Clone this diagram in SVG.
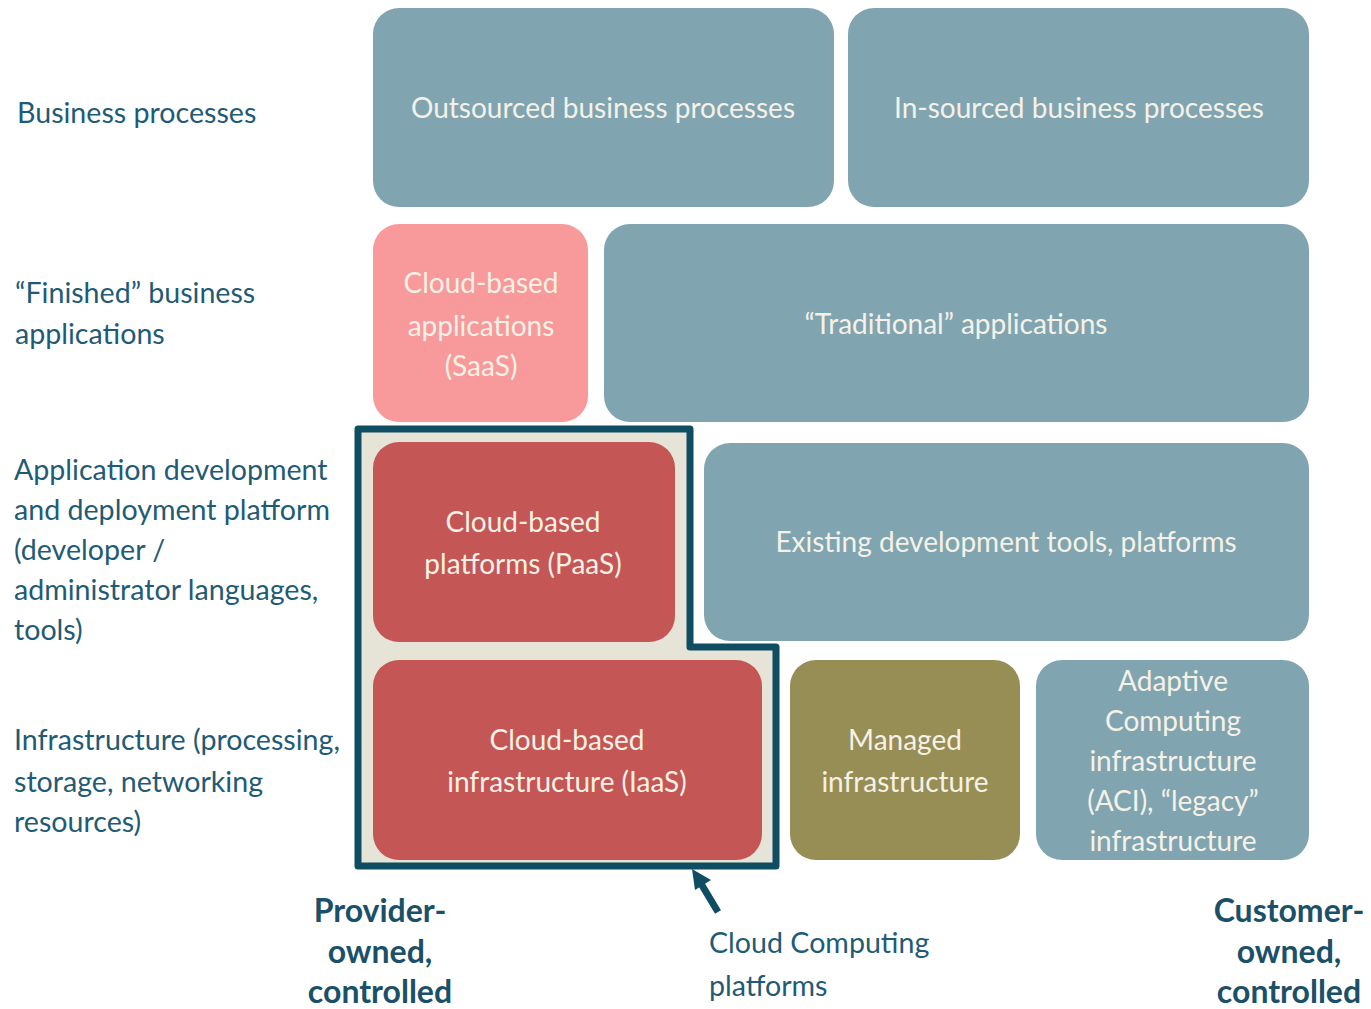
<svg xmlns="http://www.w3.org/2000/svg" width="1371" height="1009" viewBox="0 0 1371 1009">
<style>
.blue{fill:#80a5b1}
.pink{fill:#f89a9b}
.red{fill:#c45655}
.olive{fill:#968e55}
text{font-family:Lato,"Open Sans","Liberation Sans",sans-serif;font-size:28px}
.lbl{fill:#1f5b75;font-size:28.6px}
.bx{fill:#f6f1e6;text-anchor:middle}
.bold{font-weight:bold;fill:#1a5068;text-anchor:middle;font-size:32px}
</style>
<rect width="1371" height="1009" fill="#ffffff"/>
<g id="labels">
<text class="lbl" x="17" y="123">Business processes</text>
<text class="lbl" x="15" y="303">“Finished” business</text>
<text class="lbl" x="15" y="344">applications</text>
<text class="lbl" x="14" y="480">Application development</text>
<text class="lbl" x="14" y="520">and deployment platform</text>
<text class="lbl" x="14" y="560">(developer /</text>
<text class="lbl" x="14" y="600">administrator languages,</text>
<text class="lbl" x="14" y="640">tools)</text>
<text class="lbl" x="14" y="750">Infrastructure  (processing,</text>
<text class="lbl" x="14" y="792">storage, networking</text>
<text class="lbl" x="14" y="832">resources)</text>
</g>
<g id="cloud-platforms-outline">
<path d="M358 429 H690 V647 H776 V866 H358 Z" fill="#e6e4d6" stroke="#0f4d63" stroke-width="7" stroke-linejoin="round"/>
</g>
<g id="outsourced"><rect class="blue" x="373" y="8" width="461" height="199" rx="26"/><text class="bx" x="603" y="118">Outsourced business processes</text></g>
<g id="insourced"><rect class="blue" x="848" y="8" width="461" height="199" rx="26"/><text class="bx" x="1079" y="118">In-sourced business processes</text></g>
<g id="saas"><rect class="pink" x="373" y="224" width="215" height="198" rx="26"/><text class="bx" x="481" y="293">Cloud-based</text><text class="bx" x="481" y="336">applications</text><text class="bx" x="481" y="376">(SaaS)</text></g>
<g id="traditional"><rect class="blue" x="604" y="224" width="705" height="198" rx="26"/><text class="bx" x="956" y="334">“Traditional” applications</text></g>
<g id="paas"><rect class="red" x="373" y="442" width="302" height="200" rx="26"/><text class="bx" x="523" y="532">Cloud-based</text><text class="bx" x="523" y="574">platforms (PaaS)</text></g>
<g id="existing"><rect class="blue" x="704" y="443" width="605" height="198" rx="26"/><text class="bx" x="1006" y="552">Existing development tools, platforms</text></g>
<g id="iaas"><rect class="red" x="373" y="660" width="389" height="200" rx="26"/><text class="bx" x="567" y="750">Cloud-based</text><text class="bx" x="567" y="792">infrastructure (IaaS)</text></g>
<g id="managed"><rect class="olive" x="790" y="660" width="230" height="200" rx="26"/><text class="bx" x="905" y="750">Managed</text><text class="bx" x="905" y="792">infrastructure</text></g>
<g id="adaptive"><rect class="blue" x="1036" y="660" width="273" height="200" rx="26"/><text class="bx" x="1173" y="691">Adaptive</text><text class="bx" x="1173" y="731">Computing</text><text class="bx" x="1173" y="771">infrastructure</text><text class="bx" x="1173" y="811">(ACI), “legacy”</text><text class="bx" x="1173" y="851">infrastructure</text></g>
<g id="connectors">
<line x1="718" y1="912" x2="700" y2="882" stroke="#0f4d63" stroke-width="7"/>
<polygon points="692,869 711,880 695,890" fill="#0f4d63"/>
</g>
<g id="provider"><text class="bold" x="380" y="922">Provider-</text><text class="bold" x="380" y="963">owned,</text><text class="bold" x="380" y="1003">controlled</text></g>
<g id="customer"><text class="bold" x="1289" y="922">Customer-</text><text class="bold" x="1289" y="963">owned,</text><text class="bold" x="1289" y="1003">controlled</text></g>
<g id="cloud-label"><text class="lbl" x="709" y="953">Cloud Computing</text><text class="lbl" x="709" y="996">platforms</text></g>
</svg>
